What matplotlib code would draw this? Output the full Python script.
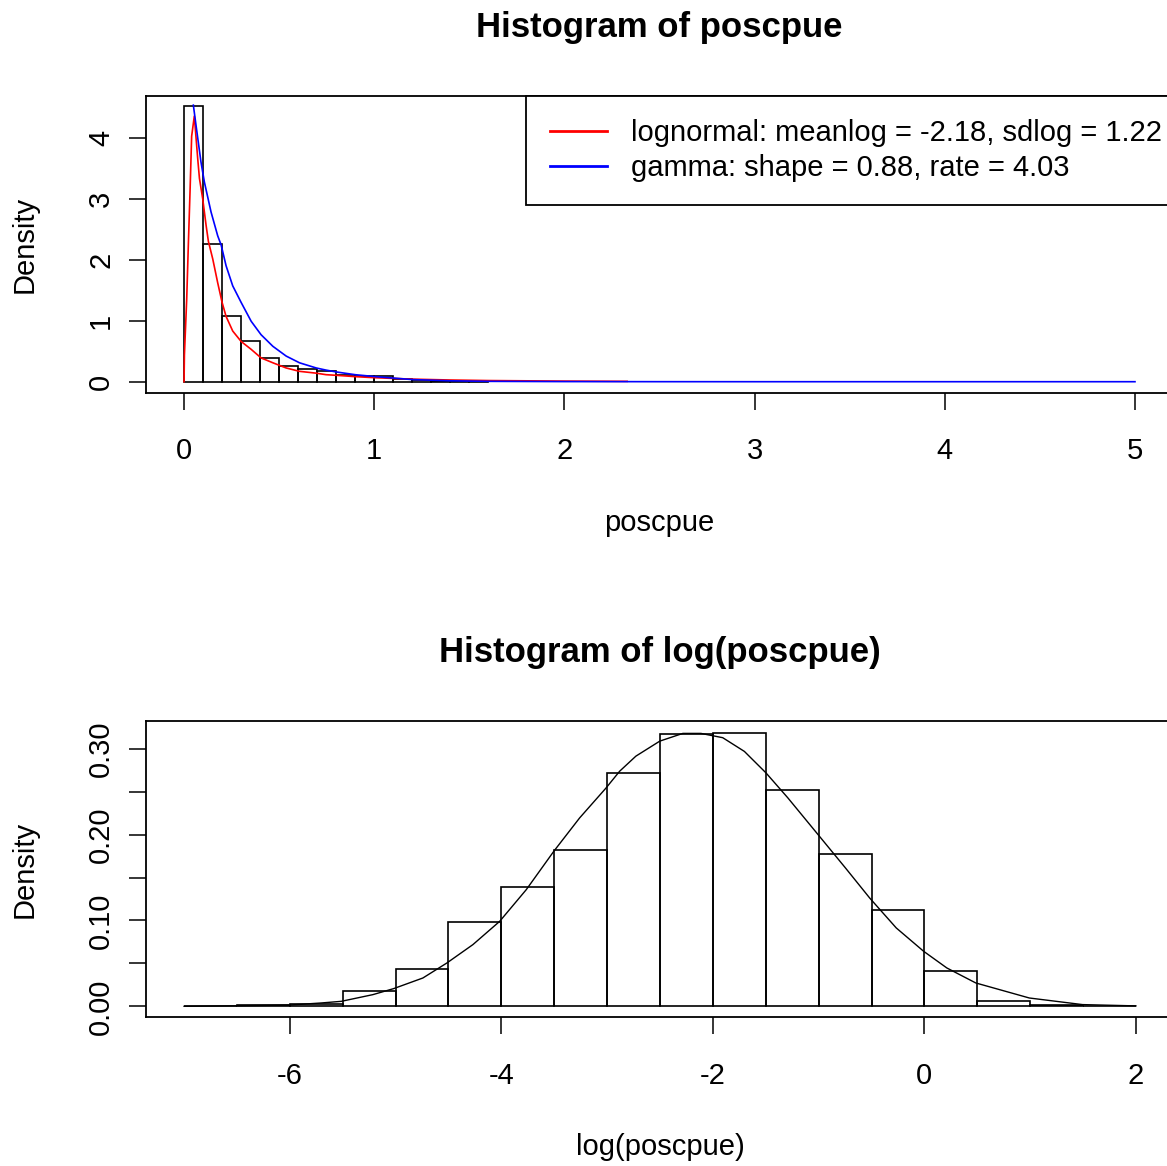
import matplotlib
matplotlib.use("Agg")
import matplotlib.pyplot as plt
from matplotlib.lines import Line2D
import numpy as np

plt.rcParams['font.family'] = ['Liberation Sans', 'DejaVu Sans']
plt.rcParams['axes.unicode_minus'] = False

# ---- data: histogram of poscpue (density, bin width 0.1) ----
pos_edges = [0.0, 0.1, 0.2, 0.3, 0.4, 0.5, 0.6, 0.7, 0.8, 0.9, 1.0,
             1.1, 1.2, 1.3, 1.4, 1.5, 1.6]
pos_density = [4.52, 2.25, 1.07, 0.67, 0.395, 0.26, 0.205, 0.17, 0.115,
               0.10, 0.087, 0.05, 0.02, 0.015, 0.01, 0.006]

# fitted lognormal density curve
lnorm_x = [0.0, 0.002, 0.014, 0.023, 0.032, 0.040, 0.054, 0.072, 0.081,
           0.098, 0.116, 0.128, 0.151, 0.177, 0.200, 0.221, 0.256, 0.300,
           0.353, 0.405, 0.467, 0.537, 0.607, 0.695, 0.747, 0.80, 0.90,
           1.00, 1.20, 1.40, 1.60, 2.00, 2.33]
lnorm_y = [0.0, 0.44, 1.35, 2.28, 3.16, 4.02, 4.35, 3.65, 3.33, 3.00, 2.56,
           2.30, 2.01, 1.62, 1.30, 1.07, 0.83, 0.66, 0.53, 0.39, 0.31, 0.225,
           0.17, 0.14, 0.115, 0.105, 0.083, 0.066, 0.042, 0.028, 0.019,
           0.010, 0.006]

# fitted gamma density curve
gamma_x = [0.049, 0.063, 0.089, 0.107, 0.142, 0.177, 0.195, 0.221, 0.256,
           0.300, 0.353, 0.405, 0.467, 0.537, 0.607, 0.695, 0.747, 0.80,
           0.90, 1.00, 1.10, 1.20, 1.40, 1.60, 2.00, 2.50, 3.00, 4.00, 5.00]
gamma_y = [4.53, 4.20, 3.60, 3.27, 2.78, 2.39, 2.24, 1.90, 1.57, 1.30, 0.99,
           0.77, 0.58, 0.42, 0.31, 0.225, 0.19, 0.16, 0.115, 0.085, 0.06,
           0.035, 0.015, 0.006, 0.002, 0.0005, 0.0, 0.0, 0.0]

legend_labels = ["lognormal: meanlog = -2.18, sdlog = 1.22",
                 "gamma: shape = 0.88, rate = 4.03"]

# ---- data: histogram of log(poscpue) (density, bin width 0.5) ----
log_edges = [-7.0, -6.5, -6.0, -5.5, -5.0, -4.5, -4.0, -3.5, -3.0, -2.5,
             -2.0, -1.5, -1.0, -0.5, 0.0, 0.5, 1.0, 1.5, 2.0]
log_density = [0.0, 0.0012, 0.003, 0.0175, 0.044, 0.098, 0.139, 0.182,
               0.272, 0.317, 0.319, 0.2515, 0.178, 0.1127, 0.0416, 0.0066,
               0.002, 0.0006]

# fitted normal density curve on the log scale
norm_x = [-7.0, -6.5, -6.0, -5.703, -5.514, -5.215, -5.019, -4.742, -4.515,
          -4.269, -4.016, -3.764, -3.502, -3.26, -3.013, -2.881, -2.728,
          -2.502, -2.284, -2.113, -1.907, -1.702, -1.498, -1.292, -1.005,
          -0.745, -0.516, -0.266, -0.007, 0.212, 0.486, 0.992, 1.495, 2.0]
norm_y = [0.0, 0.0006, 0.0015, 0.0039, 0.0058, 0.0136, 0.0206, 0.033,
          0.0505, 0.0719, 0.099, 0.136, 0.181, 0.2195, 0.254, 0.274, 0.2915,
          0.309, 0.318, 0.318, 0.313, 0.297, 0.272, 0.243, 0.200, 0.161,
          0.126, 0.0913, 0.0641, 0.0447, 0.0272, 0.0097, 0.002, 0.0005]

FS = 21
TITLE_FS = 25

W, H = 1167, 1166
fig = plt.figure(figsize=(W / 100, H / 100), dpi=100)
fig.patch.set_facecolor('white')


def rect(l, t, r, b):
    return [l / W, 1 - b / H, (r - l) / W, (b - t) / H]


def style_axes(ax):
    for sp in ax.spines.values():
        sp.set_linewidth(1.3)
        sp.set_color('black')
    ax.tick_params(axis='both', direction='out', length=12.2, width=1.1,
                   labelsize=FS, color='black')
    ax.tick_params(axis='x', pad=20)
    ax.tick_params(axis='y', pad=10, labelrotation=90)
    for lbl in ax.get_yticklabels():
        lbl.set_va('center')


def draw_hist(ax, edges, dens):
    edges = np.asarray(edges)
    ax.bar(edges[:-1], dens, width=np.diff(edges), align='edge',
           fill=False, edgecolor='black', linewidth=1.2, zorder=2)


# ---- top panel ----
ax1 = fig.add_axes(rect(146, 96, 1173, 392.7))
draw_hist(ax1, pos_edges, pos_density)
ax1.plot(lnorm_x, lnorm_y, color='red', linewidth=1.2, zorder=3)
ax1.plot(gamma_x, gamma_y, color='blue', linewidth=1.2, zorder=4)
ax1.set_xlim(-0.2, 5.2)
ax1.set_ylim(-0.18, 4.68)
ax1.set_xticks([0, 1, 2, 3, 4, 5])
ax1.set_yticks([0, 1, 2, 3, 4])
style_axes(ax1)
ax1.set_title("Histogram of poscpue", fontsize=TITLE_FS, fontweight='bold',
              pad=42.3)
ax1.set_xlabel("poscpue", fontsize=FS)
ax1.xaxis.set_label_coords(0.5, -0.391)
ax1.set_ylabel("Density", fontsize=FS)
ax1.yaxis.set_label_coords(-0.1047, 0.5)

handles = [Line2D([], [], color='red', linewidth=2.0),
           Line2D([], [], color='blue', linewidth=2.0)]
leg = ax1.legend(handles, legend_labels, loc='upper left',
                 bbox_to_anchor=(0.3704, 1.0), borderaxespad=0,
                 fontsize=FS, frameon=True, fancybox=False,
                 edgecolor='black', framealpha=1, borderpad=0.8,
                 labelspacing=0.22, handlelength=1.97, handletextpad=0.82)
leg.get_frame().set_linewidth(1.3)

# ---- bottom panel ----
ax2 = fig.add_axes(rect(146, 720.7, 1174, 1017.3))
draw_hist(ax2, log_edges, log_density)
ax2.plot(norm_x, norm_y, color='black', linewidth=1.0, zorder=3)
ax2.set_xlim(-7.36, 2.36)
ax2.set_ylim(-0.0128, 0.3328)
ax2.set_xticks([-6, -4, -2, 0, 2])
ax2.set_yticks([0.0, 0.05, 0.10, 0.15, 0.20, 0.25, 0.30])
ax2.set_yticklabels(['0.00', '', '0.10', '', '0.20', '', '0.30'])
style_axes(ax2)
ax2.set_title("Histogram of log(poscpue)", fontsize=TITLE_FS,
              fontweight='bold', pad=42.3)
ax2.set_xlabel("log(poscpue)", fontsize=FS)
ax2.xaxis.set_label_coords(0.5, -0.391)
ax2.set_ylabel("Density", fontsize=FS)
ax2.yaxis.set_label_coords(-0.1047, 0.5)

fig.savefig("out.png", dpi=100, facecolor='white')
